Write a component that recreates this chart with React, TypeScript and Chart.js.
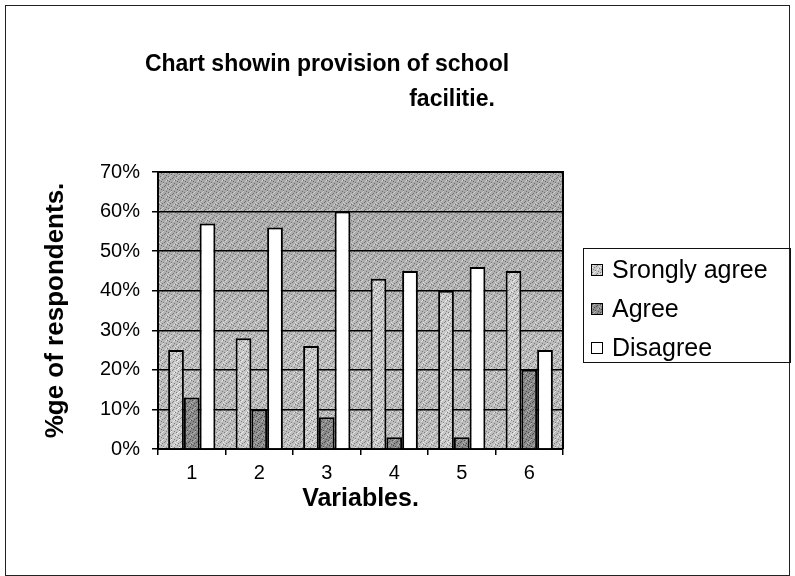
import React, { useEffect, useRef } from "react";
import { Chart, registerables } from "chart.js";

Chart.register(...registerables);

// ---- data ----
const categories = ["1", "2", "3", "4", "5", "6"];
const stronglyAgree = [25, 28, 26, 43, 40, 45];
const agree = [13, 10, 8, 3, 3, 20];
const disagree = [57, 56, 60, 45, 46, 25];
const seriesLabels = ["Srongly agree", "Agree", "Disagree"];
const yTickValues = [0, 10, 20, 30, 40, 50, 60, 70];
const titleLines = ["Chart showin provision of school", "facilitie."];
const yTitle = "%ge of respondents.";
const xTitle = "Variables.";

const FONT = "'Liberation Sans', Arial, Helvetica, sans-serif";

// texture dot positions for stipple fills (purely decorative)
const DARK_DOTS = [[0, 0], [5, 1], [2, 3], [7, 4], [3, 6], [6, 7], [1, 5], [4, 2]];
const LIGHT_DOTS = [[2, 0], [7, 2], [0, 3], [5, 5], [3, 7], [6, 4], [1, 1]];

function stipple(base: string, dark: string, light: string) {
  const c = document.createElement("canvas");
  c.width = 8;
  c.height = 8;
  const g = c.getContext("2d")!;
  g.fillStyle = base;
  g.fillRect(0, 0, 8, 8);
  g.fillStyle = dark;
  DARK_DOTS.forEach(([x, y]) => g.fillRect(x, y, 1, 1));
  g.fillStyle = light;
  LIGHT_DOTS.forEach(([x, y]) => g.fillRect(x, y, 1, 1));
  return g.createPattern(c, "repeat")!;
}

export default function App() {
  const ref = useRef<HTMLCanvasElement>(null);

  useEffect(() => {
    document.body.style.margin = "0";
    const canvas = ref.current!;
    const bgPat = stipple("#bcbcbc", "#7e7e7e", "#e6e6e6");
    const saPat = stipple("#c8c8c8", "#808080", "#eeeeee");
    const agPat = stipple("#8a8a8a", "#4c4c4c", "#b4b4b4");

    const decor = {
      id: "decor",
      beforeDraw(chart: any) {
        const { ctx, chartArea: a, width, height } = chart;
        ctx.save();
        ctx.fillStyle = "#ffffff";
        ctx.fillRect(0, 0, width, height);
        ctx.fillStyle = bgPat;
        ctx.fillRect(a.left, a.top, a.right - a.left, a.bottom - a.top);
        const grad = ctx.createLinearGradient(0, a.top, 0, a.bottom);
        grad.addColorStop(0, "rgba(0,0,0,0.11)");
        grad.addColorStop(0.4, "rgba(0,0,0,0.06)");
        grad.addColorStop(0.7, "rgba(0,0,0,0)");
        grad.addColorStop(1, "rgba(255,255,255,0.06)");
        ctx.fillStyle = grad;
        ctx.fillRect(a.left, a.top, a.right - a.left, a.bottom - a.top);
        ctx.restore();
      },
      afterDraw(chart: any) {
        const { ctx, chartArea: a } = chart;
        ctx.save();
        // outer frame
        ctx.strokeStyle = "#222";
        ctx.lineWidth = 1;
        ctx.strokeRect(5.5, 5.5, 784, 570);
        // plot right/top border
        ctx.strokeStyle = "#000";
        ctx.lineWidth = 2;
        ctx.beginPath();
        ctx.moveTo(a.left, a.top);
        ctx.lineTo(a.right, a.top);
        ctx.lineTo(a.right, a.bottom);
        ctx.stroke();
        // title
        ctx.fillStyle = "#000";
        ctx.font = `bold 23px ${FONT}`;
        ctx.textAlign = "center";
        ctx.textBaseline = "middle";
        ctx.fillText(titleLines[0], 327, 65);
        ctx.fillText(titleLines[1], 452, 100);
        // legend
        ctx.lineWidth = 1;
        ctx.strokeStyle = "#111";
        ctx.strokeRect(583.5, 248.5, 207, 114);
        ctx.textAlign = "left";
        ctx.font = `25px ${FONT}`;
        chart.data.datasets.forEach((ds: any, i: number) => {
          const cy = 270 + i * 39;
          ctx.fillStyle = ds.backgroundColor;
          ctx.fillRect(591, cy - 6, 12, 12);
          ctx.strokeStyle = "#000";
          ctx.strokeRect(591.5, cy - 5.5, 11, 11);
          ctx.fillStyle = "#000";
          ctx.fillText(ds.label, 612, cy + 1);
        });
        ctx.restore();
      },
    };

    const chart = new Chart(canvas, {
      type: "bar",
      data: {
        labels: categories,
        datasets: [
          { label: seriesLabels[0], data: stronglyAgree, backgroundColor: saPat, borderColor: "#000", borderWidth: 2 },
          { label: seriesLabels[1], data: agree, backgroundColor: agPat, borderColor: "#000", borderWidth: 2 },
          { label: seriesLabels[2], data: disagree, backgroundColor: "#ffffff", borderColor: "#000", borderWidth: 2 },
        ],
      },
      options: {
        responsive: false,
        animation: false,
        devicePixelRatio: 1,
        layout: { padding: { left: 40, top: 172, right: 232, bottom: 57 } },
        datasets: { bar: { categoryPercentage: 0.7, barPercentage: 1 } },
        plugins: {
          legend: { display: false },
          title: { display: false },
          tooltip: { enabled: false },
        },
        scales: {
          x: {
            grid: { display: true, drawOnChartArea: false, drawTicks: true, tickLength: 6, color: "#000", lineWidth: 1.5, offset: true },
            border: { display: true, color: "#000", width: 2 },
            ticks: { font: { family: FONT, size: 20 }, color: "#000", padding: 6 },
            title: { display: true, text: xTitle, font: { family: FONT, size: 25, weight: "bold" }, color: "#000", padding: { top: 0, bottom: 5 } },
            afterFit: (s: any) => { s.height = 70; },
          },
          y: {
            min: 0,
            max: 70,
            afterBuildTicks: (s: any) => { s.ticks = yTickValues.map((v) => ({ value: v })); },
            ticks: { font: { family: FONT, size: 20 }, color: "#000", padding: 12, callback: (v: any) => v + "%" },
            grid: { color: "#000", lineWidth: 1.5, tickLength: 6, drawTicks: true },
            border: { display: true, color: "#000", width: 2 },
            title: { display: true, text: yTitle, font: { family: FONT, size: 26, weight: "bold" }, color: "#000", padding: { top: 0, bottom: 0 } },
            afterFit: (s: any) => { s.width = 118; },
          },
        },
      } as any,
      plugins: [decor],
    });
    return () => chart.destroy();
  }, []);

  return <canvas ref={ref} width={795} height={576} style={{ display: "block" }} />;
}
